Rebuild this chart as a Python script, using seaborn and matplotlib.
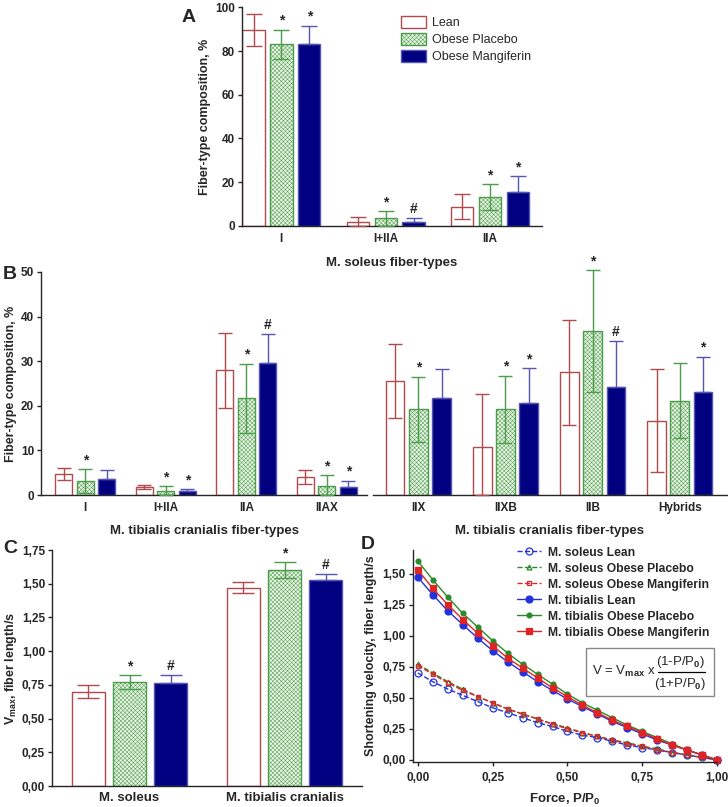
#!/usr/bin/env python3
import numpy as np
import pandas as pd
import seaborn as sns
import matplotlib.pyplot as plt
from matplotlib.ticker import FuncFormatter, MultipleLocator
from matplotlib.patches import Patch, Rectangle
from matplotlib.lines import Line2D

groups = ['Lean', 'Obese Placebo', 'Obese Mangiferin']

# A) M. soleus fiber-type composition, %
a_types = ['I', 'I+IIA', 'IIA']
a_lean = [89.5, 1.7, 8.8]
a_lean_sd = [7.3, 2.6, 5.7]
a_plac = [83.1, 3.5, 13.1]
a_plac_sd = [6.7, 3.3, 5.9]
a_mang = [83.1, 2.0, 15.4]
a_mang_sd = [8.4, 1.8, 7.4]
a_plac_sig = ['*', '*', '*']
a_mang_sig = ['*', '#', '*']

# B) M. tibialis cranialis fiber-types, left part
b1_types = ['I', 'I+IIA', 'IIA', 'IIAX']
b1_lean = [4.7, 1.8, 28.0, 4.1]
b1_lean_sd = [1.4, 0.4, 8.4, 1.6]
b1_plac = [3.1, 1.0, 21.7, 2.1]
b1_plac_sd = [2.7, 1.0, 7.7, 2.3]
b1_mang = [3.7, 0.8, 29.5, 1.9]
b1_mang_sd = [1.9, 0.5, 6.5, 1.3]
b1_plac_sig = ['*', '*', '*', '*']
b1_mang_sig = ['', '*', '#', '*']

# B) right part
b2_types = ['IIX', 'IIXB', 'IIB', 'Hybrids']
b2_lean = [25.6, 10.7, 27.5, 16.7]
b2_lean_sd = [8.3, 11.9, 11.8, 11.5]
b2_plac = [19.2, 19.2, 36.8, 21.1]
b2_plac_sd = [7.3, 7.5, 13.6, 8.4]
b2_mang = [21.7, 20.7, 24.2, 23.2]
b2_mang_sd = [6.5, 7.7, 10.4, 7.8]
b2_plac_sig = ['*', '*', '*', '']
b2_mang_sig = ['', '*', '#', '*']

# C) Vmax, fiber length/s
c_muscles = ['M. soleus', 'M. tibialis cranialis']
c_lean = [0.70, 1.47]
c_lean_sd = [0.05, 0.04]
c_plac = [0.77, 1.60]
c_plac_sd = [0.05, 0.06]
c_mang = [0.765, 1.53]
c_mang_sd = [0.06, 0.04]
c_plac_sig = ['*', '*']
c_mang_sig = ['#', '#']

# D) force-velocity curves
force = [0.00, 0.05, 0.10, 0.15, 0.20, 0.25, 0.30, 0.35, 0.40, 0.45, 0.50,
         0.55, 0.60, 0.65, 0.70, 0.75, 0.80, 0.85, 0.90, 0.95, 1.00]
sol_lean = [0.70, 0.63, 0.57, 0.52, 0.47, 0.42, 0.38, 0.34, 0.30, 0.27, 0.23,
            0.20, 0.18, 0.15, 0.12, 0.10, 0.08, 0.06, 0.04, 0.02, 0.00]
sol_plac = [0.77, 0.70, 0.63, 0.57, 0.51, 0.46, 0.41, 0.37, 0.33, 0.29, 0.26,
            0.22, 0.19, 0.16, 0.14, 0.11, 0.09, 0.06, 0.04, 0.02, 0.00]
sol_mang = [0.76, 0.69, 0.62, 0.56, 0.51, 0.46, 0.41, 0.37, 0.33, 0.29, 0.25,
            0.22, 0.19, 0.16, 0.13, 0.11, 0.08, 0.06, 0.04, 0.02, 0.00]
tib_lean = [1.47, 1.33, 1.20, 1.09, 0.98, 0.88, 0.79, 0.71, 0.63, 0.56, 0.49,
            0.43, 0.37, 0.31, 0.26, 0.21, 0.16, 0.12, 0.08, 0.04, 0.00]
tib_plac = [1.60, 1.45, 1.31, 1.18, 1.07, 0.96, 0.86, 0.77, 0.69, 0.61, 0.53,
            0.46, 0.40, 0.34, 0.28, 0.23, 0.18, 0.13, 0.08, 0.04, 0.00]
tib_mang = [1.53, 1.38, 1.25, 1.13, 1.02, 0.92, 0.82, 0.74, 0.66, 0.58, 0.51,
            0.44, 0.38, 0.32, 0.27, 0.22, 0.17, 0.12, 0.08, 0.04, 0.00]

# colors
lean_edge = '#b04a4d'
plac_edge = '#4c9c4c'
mang_face = '#000080'
mang_edge = '#5656b0'
d_blue = '#2233dd'
d_green = '#2a8a2a'
d_red = '#e02424'

sns.set_style('ticks')
plt.rcParams['font.family'] = ['Liberation Sans Narrow', 'Liberation Sans', 'DejaVu Sans']
plt.rcParams['font.weight'] = 'bold'
plt.rcParams['axes.labelweight'] = 'bold'
plt.rcParams['mathtext.fontset'] = 'custom'
plt.rcParams['mathtext.rm'] = 'Liberation Sans'
plt.rcParams['mathtext.it'] = 'Liberation Sans'
plt.rcParams['mathtext.bf'] = 'Liberation Sans:bold'
plt.rcParams['hatch.linewidth'] = 0.35
plt.rcParams['axes.linewidth'] = 1.0

bar_styles = [
    dict(facecolor='white', edgecolor=lean_edge, hatch=None),
    dict(facecolor='#eaf6e6', edgecolor=plac_edge, hatch='xxxxxxxx'),
    dict(facecolor=mang_face, edgecolor=mang_edge, hatch=None),
]
err_colors = [lean_edge, plac_edge, mang_edge]

comma = FuncFormatter(lambda v, p: f'{v:.2f}'.replace('.', ','))

fig = plt.figure(figsize=(7.28, 8.07), dpi=100)


def bar_panel(ax, types, means, sds, sigs, capsize, sig_size=10):
    rows = []
    for g, m in zip(groups, means):
        for t, v in zip(types, m):
            rows.append({'type': t, 'group': g, 'value': v})
    df = pd.DataFrame(rows)
    sns.barplot(data=df, x='type', y='value', hue='group', order=types,
                hue_order=groups, gap=0.2, errorbar=None, legend=False,
                palette=['white', '#eaf6e6', mang_face], ax=ax)
    bar_conts = list(ax.containers)
    for gi, cont in enumerate(bar_conts):
        for k, bar in enumerate(cont):
            bar.set_facecolor(bar_styles[gi]['facecolor'])
            bar.set_edgecolor(bar_styles[gi]['edgecolor'])
            bar.set_hatch(bar_styles[gi]['hatch'])
            bar.set_linewidth(1.0)
            x = bar.get_x() + bar.get_width() / 2
            h = bar.get_height()
            sd = sds[gi][k]
            low = 0 if gi == 2 else min(sd, h)
            eb = ax.errorbar(x, h, yerr=[[low], [sd]], fmt='none', ecolor=err_colors[gi],
                             elinewidth=1.0, capsize=capsize, capthick=1.0, zorder=5)
            for art in eb.lines[1] + eb.lines[2]:
                art.set_clip_on(False)
            s = sigs[gi][k]
            if s:
                ax.annotate(s, (x, h + sd), xytext=(0, 1.5), textcoords='offset points',
                            ha='center', va='bottom', fontsize=sig_size, fontweight='bold',
                            annotation_clip=False)
    sns.despine(ax=ax)
    ax.tick_params(axis='x', length=0, labelsize=8.5, pad=5)
    ax.tick_params(axis='y', labelsize=8.5, length=3, width=1, pad=2)
    ax.set_xlabel(None)
    ax.set_ylabel(None)


# panel A
axA = fig.add_axes([0.332, 0.720, 0.413, 0.271])
bar_panel(axA, a_types, [a_lean, a_plac, a_mang], [a_lean_sd, a_plac_sd, a_mang_sd],
          [[''] * 3, a_plac_sig, a_mang_sig], capsize=6)
axA.set_ylim(0, 100)
axA.set_xlim(-0.38, 2.5)
axA.yaxis.set_major_locator(MultipleLocator(20))
axA.set_ylabel('Fiber-type composition, %', fontsize=9, labelpad=3)
axA.set_xlabel('M. soleus fiber-types', fontsize=9.5, labelpad=9)
handles = [Patch(facecolor=bar_styles[i]['facecolor'], edgecolor=bar_styles[i]['edgecolor'],
                 hatch=bar_styles[i]['hatch'], linewidth=1.0, label=g) for i, g in enumerate(groups)]
leg = axA.legend(handles=handles, loc='upper right', bbox_to_anchor=(1.0, 1.01), frameon=False,
                 prop={'family': 'Liberation Sans', 'size': 9, 'weight': 'normal'},
                 handlelength=2.0, handleheight=1.05, labelspacing=0.3, handletextpad=0.5)

# panel B left
axB1 = fig.add_axes([0.0563, 0.3866, 0.448, 0.2764])
bar_panel(axB1, b1_types, [b1_lean, b1_plac, b1_mang], [b1_lean_sd, b1_plac_sd, b1_mang_sd],
          [[''] * 4, b1_plac_sig, b1_mang_sig], capsize=5)
axB1.set_ylim(0, 50)
axB1.set_xlim(-0.55, 3.5)
axB1.yaxis.set_major_locator(MultipleLocator(10))
axB1.set_ylabel('Fiber-type composition, %', fontsize=9, labelpad=3)
axB1.set_xlabel('M. tibialis cranialis fiber-types', fontsize=9.5, labelpad=8)

# panel B right
axB2 = fig.add_axes([0.5124, 0.3866, 0.486, 0.2764])
bar_panel(axB2, b2_types, [b2_lean, b2_plac, b2_mang], [b2_lean_sd, b2_plac_sd, b2_mang_sd],
          [[''] * 4, b2_plac_sig, b2_mang_sig], capsize=5)
axB2.set_ylim(0, 50)
axB2.set_xlim(-0.52, 3.54)
axB2.spines['left'].set_visible(False)
axB2.set_yticks([])
axB2.set_xlabel('M. tibialis cranialis fiber-types', fontsize=9.5, labelpad=8)

# panel C
axC = fig.add_axes([0.0714, 0.026, 0.426, 0.2924])
bar_panel(axC, c_muscles, [c_lean, c_plac, c_mang], [c_lean_sd, c_plac_sd, c_mang_sd],
          [[''] * 2, c_plac_sig, c_mang_sig], capsize=8)
axC.set_ylim(0, 1.75)
axC.set_xlim(-0.5, 1.5)
axC.yaxis.set_major_locator(MultipleLocator(0.25))
axC.yaxis.set_major_formatter(comma)
axC.tick_params(axis='x', labelsize=9.5, pad=4)
axC.set_ylabel('V$_{\\mathbf{max}}$, fiber length/s', fontsize=9, labelpad=2)

# panel D
axD = fig.add_axes([0.567, 0.0558, 0.418, 0.2627])
d_lines = [
    (sol_lean, 'M. soleus Lean', d_blue, 'o', '--', 'none', 5),
    (sol_plac, 'M. soleus Obese Placebo', d_green, '^', '--', 'none', 3.5),
    (sol_mang, 'M. soleus Obese Mangiferin', d_red, 's', '--', 'none', 3.5),
    (tib_lean, 'M. tibialis Lean', d_blue, 'o', '-', d_blue, 5),
    (tib_plac, 'M. tibialis Obese Placebo', d_green, 'o', '-', d_green, 3.5),
    (tib_mang, 'M. tibialis Obese Mangiferin', d_red, 's', '-', d_red, 4),
]
for vals, lab, col, mk, ls, mfc, ms in d_lines:
    sns.lineplot(x=force, y=vals, ax=axD, color=col, linestyle=ls, marker=mk,
                 markersize=ms, markerfacecolor=mfc, markeredgecolor=col,
                 markeredgewidth=0.9, linewidth=1.0, label=lab, clip_on=False)
axD.set_xlim(-0.017, 1.0)
axD.set_ylim(-0.016, 1.69)
axD.xaxis.set_major_locator(MultipleLocator(0.25))
axD.set_yticks([0, 0.25, 0.5, 0.75, 1.0, 1.25, 1.5])
axD.xaxis.set_major_formatter(comma)
axD.yaxis.set_major_formatter(comma)
sns.despine(ax=axD)
axD.tick_params(labelsize=8.5, length=3, width=1, pad=2)
axD.tick_params(axis='x', pad=4)
axD.set_xlabel('Force, P/P$_\\mathbf{0}$', fontsize=9.5, labelpad=6)
axD.set_ylabel('Shortening velocity, fiber length/s', fontsize=9)
axD.legend(loc='upper right', bbox_to_anchor=(1.0, 1.05), frameon=False, fontsize=8.7,
           handlelength=2.0, labelspacing=0.33, handletextpad=0.6, borderaxespad=0.2)

# formula box
axD.add_patch(Rectangle((0.569, 0.311), 0.421, 0.227, transform=axD.transAxes,
                        facecolor='white', edgecolor='#888888', linewidth=1.0, zorder=6))
txt = dict(transform=axD.transAxes, fontsize=9.5, fontweight='normal',
           family='Liberation Sans', zorder=7)
axD.text(0.589, 0.425, 'V = V$_{\\mathrm{max}}$ x', ha='left', va='center', **txt)
axD.text(0.878, 0.470, '(1-P/P$_0$)', ha='center', va='center', **txt)
axD.text(0.878, 0.368, '(1+P/P$_0$)', ha='center', va='center', **txt)
axD.add_line(Line2D([0.806, 0.961], [0.425, 0.425], transform=axD.transAxes,
                    color='black', linewidth=0.9, zorder=7))

# panel letters
for lab, x, y in [('A', 0.250, 0.978), ('B', 0.004, 0.660), ('C', 0.004, 0.320), ('D', 0.495, 0.325)]:
    fig.text(x, y, lab, fontsize=14, fontweight='bold', family='Liberation Sans', va='center')

fig.savefig('out.png', dpi=100)
